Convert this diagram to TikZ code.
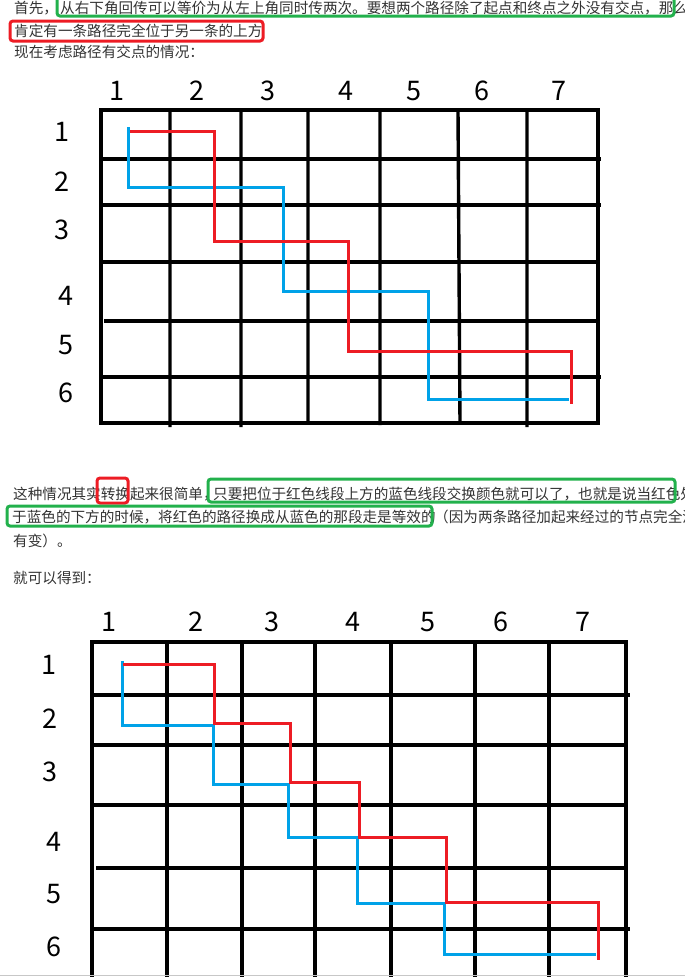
\documentclass[tikz,border=0pt]{standalone}
\usepackage{fontspec}
\setmainfont{Noto Sans CJK SC}
\usetikzlibrary{positioning}
\definecolor{txtColor}{HTML}{333333}
\definecolor{redColor}{HTML}{ED1C24}
\definecolor{blueColor}{HTML}{00A2E8}
\definecolor{boxColor}{HTML}{22B14C}
\newcommand{\paraFont}{\fontsize{14.6}{17}\selectfont}
\newcommand{\numFont}{\fontsize{27}{30}\selectfont}

\begin{document}
\begin{tikzpicture}[x=1pt,y=-1pt,
		gridline/.style={line width=3.4pt},
		redpath/.style={redColor,line width=3pt},
		bluepath/.style={blueColor,line width=3pt},
		markbox/.style={line width=3pt,rounded corners=3pt},
		num/.style={inner sep=0,font=\numFont},
		para/.style={inner sep=0,anchor=west,font=\paraFont,text=txtColor}]
	\useasboundingbox (0,0) rectangle (685,977);
	\clip (0,0) rectangle (685,977);
	
	% first text block
	\node[para] (p1a) at (14,8) {首先，};
	\node[para] (p1b) at (60,8) {从右下角回传可以等价为从左上角同时传两次。要想两个路径除了起点和终点之外没有交点，那么};
	\node[para] (p2) at (14,31) {肯定有一条路径完全位于另一条的上方};
	\node[para] (p3) at (14,52) {现在考虑路径有交点的情况：};
	\draw[markbox,boxColor] (57,-3) rectangle (674,16);
	\draw[markbox,redColor] (10,21) rectangle (263,41);
	
	% first grid
	\draw[gridline] (101,110) rectangle (598,423);
	\draw[gridline] (170,110) -- (170,427) (241,110) -- (241,427) (308,110) -- (308,423)
		(380,110) -- (380,425) (458,110) -- (460,423) (527,110) -- (527,427);
	\draw[gridline] (101,159) -- (601,159) (101,205) -- (601,205) (101,262) -- (598,262)
		(104,321) -- (598,321) (101,377) -- (601,377);
	\node[num] (ca1) at (117,91) {1};
	\node[num] (ca2) at (197,91) {2};
	\node[num] (ca3) at (268,91) {3};
	\node[num] (ca4) at (346,91) {4};
	\node[num] (ca5) at (414,91) {5};
	\node[num] (ca6) at (482,91) {6};
	\node[num] (ca7) at (559,91) {7};
	\node[num] (ra1) at (62,132) {1};
	\node[num] (ra2) at (62,182) {2};
	\node[num] (ra3) at (62,230) {3};
	\node[num] (ra4) at (66,296) {4};
	\node[num] (ra5) at (66,345) {5};
	\node[num] (ra6) at (66,393) {6};
	\draw[bluepath] (128,127) -- (128,187) -- (283,187) -- (283,291) -- (428,291) -- (428,399) -- (569,399);
	\draw[redpath] (130,131) -- (214,131) -- (214,241) -- (348,241) -- (348,351) -- (571,351) -- (571,404);
	
	% second text block
	\node[para] (q1a) at (13,494) {这种情况其实转换起来很简单，};
	\node[para] (q1b) at (213,494) {只要把位于红色线段上方的蓝色线段交换颜色就可以了，也就是说当红色处};
	\node[para] (q2a) at (12,517) {于蓝色的下方的时候，将红色的路径换成从蓝色的那段走是等效的};
	\node[para] (q2b) at (434,517) {（因为两条路径加起来经过的节点完全没};
	\node[para] (q3) at (13,541) {有变）。};
	\node[para] (q4) at (13,578) {就可以得到：};
	\draw[markbox,redColor] (97,478) rectangle (128,503);
	\draw[markbox,boxColor] (208,479) rectangle (675,502);
	\draw[markbox,boxColor] (7,506) rectangle (432,526);
	
	% second grid
	\draw[gridline] (92,980) -- (92,642) -- (626,642) -- (626,980);
	\draw[gridline] (167,642) -- (167,980) (242,642) -- (242,980) (315,642) -- (315,980)
		(391,642) -- (391,980) (475,642) -- (475,980) (549,642) -- (549,980);
	\draw[gridline] (92,695) -- (630,695) (92,745) -- (628,745) (92,805) -- (626,805)
		(96,868) -- (624,868) (92,929) -- (630,929);
	\node[num] (cb1) at (109,622) {1};
	\node[num] (cb2) at (196,622) {2};
	\node[num] (cb3) at (272,622) {3};
	\node[num] (cb4) at (353,622) {4};
	\node[num] (cb5) at (428,622) {5};
	\node[num] (cb6) at (501,622) {6};
	\node[num] (cb7) at (583,622) {7};
	\node[num] (rb1) at (49,665) {1};
	\node[num] (rb2) at (50,719) {2};
	\node[num] (rb3) at (50,772) {3};
	\node[num] (rb4) at (54,842) {4};
	\node[num] (rb5) at (54,894) {5};
	\node[num] (rb6) at (54,947) {6};
	\draw[bluepath] (122,661) -- (122,725) -- (213,725) -- (213,784) -- (288,784) -- (288,837)
		-- (357,837) -- (357,903) -- (444,903) -- (444,954) -- (596,954);
	\draw[redpath] (123,664) -- (214,664) -- (214,723) -- (290,723) -- (290,782) -- (359,782)
		-- (359,837) -- (446,837) -- (446,902) -- (598,902) -- (598,960);
	
	\draw[black!22,line width=1.5pt] (0,975.5) -- (685,975.5);
\end{tikzpicture}
\end{document}
